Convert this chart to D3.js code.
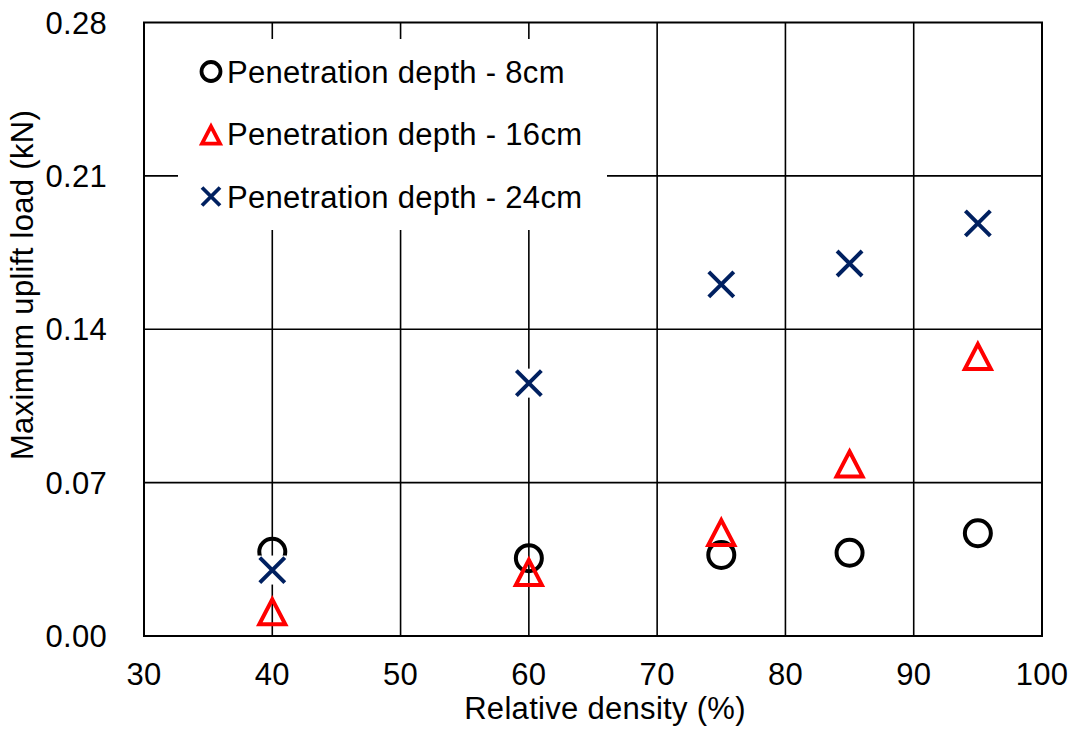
<!DOCTYPE html>
<html>
<head>
<meta charset="utf-8">
<script src="https://cdn.jsdelivr.net/npm/d3@7"></script>
<style>
    body { margin: 0; background: #fff; }
    svg { display: block; font-family: "Liberation Sans", Arial, sans-serif; }
    text { font-size: 31px; letter-spacing: 0.3px; fill: #000; }
</style>
</head>
<body>
<div id="chart"></div>
<script>
// relative density (%) and maximum uplift load (kN) per penetration depth
const density = [40, 60, 75, 85, 95];
const depth8 = [0.0384, 0.0355, 0.0370, 0.0380, 0.0469];
const depth16 = [0.0117, 0.0297, 0.0479, 0.0792, 0.1282];
const depth24 = [0.0301, 0.1154, 0.1605, 0.1700, 0.1883];

const xTicks = [30, 40, 50, 60, 70, 80, 90, 100];
const yTicks = [0, 0.07, 0.14, 0.21, 0.28];
const seriesNames = ["Penetration depth - 8cm", "Penetration depth - 16cm", "Penetration depth - 24cm"];

const W = 1073, H = 729;
const margin = { top: 22.5, right: 31, bottom: 93, left: 144 };
const width = W - margin.left - margin.right;
const height = H - margin.top - margin.bottom;

const svg = d3.select("#chart").append("svg")
    .attr("width", W)
    .attr("height", H);

const g = svg.append("g")
    .attr("transform", `translate(${margin.left},${margin.top})`);

const x = d3.scaleLinear().domain([30, 100]).range([0, width]);
const y = d3.scaleLinear().domain([0, 0.28]).range([height, 0]);

// gridlines
g.selectAll(".vgrid")
    .data(xTicks.slice(1, -1))
    .enter().append("line")
    .attr("x1", d => x(d)).attr("x2", d => x(d))
    .attr("y1", 0).attr("y2", height)
    .attr("stroke", "#000").attr("stroke-width", 1.6);

g.selectAll(".hgrid")
    .data(yTicks.slice(1, -1))
    .enter().append("line")
    .attr("x1", 0).attr("x2", width)
    .attr("y1", d => y(d)).attr("y2", d => y(d))
    .attr("stroke", "#000").attr("stroke-width", 1.6);

// legend background hides the grid behind it
g.append("rect")
    .attr("x", 34).attr("y", 16.5)
    .attr("width", 429).attr("height", 191)
    .attr("fill", "#fff");

// frame
g.append("rect")
    .attr("width", width).attr("height", height)
    .attr("fill", "none")
    .attr("stroke", "#000").attr("stroke-width", 2);

// tick labels
g.selectAll(".xlab")
    .data(xTicks)
    .enter().append("text")
    .attr("x", d => x(d))
    .attr("y", height + 48.5)
    .attr("text-anchor", "middle")
    .text(d => d);

g.selectAll(".ylab")
    .data(yTicks)
    .enter().append("text")
    .attr("x", -37)
    .attr("y", d => y(d) + 11)
    .attr("text-anchor", "end")
    .text(d => d3.format(".2f")(d));

// axis titles
svg.append("text")
    .attr("x", 605)
    .attr("y", 719)
    .attr("text-anchor", "middle")
    .text("Relative density (%)");

svg.append("text")
    .attr("transform", "translate(33,285) rotate(-90)")
    .attr("text-anchor", "middle")
    .text("Maximum uplift load (kN)");

// marker shapes
function triPath(s) {
    const hw = s * 0.5, hh = s * 0.48;
    return `M0,${-hh}L${hw},${hh}L${-hw},${hh}Z`;
}
function crossPath(s) {
    const h = s / 2;
    return `M${-h},${-h}L${h},${h}M${-h},${h}L${h},${-h}`;
}

const pts8 = density.map((d, i) => ({ x: d, y: depth8[i] }));
const pts16 = density.map((d, i) => ({ x: d, y: depth16[i] }));
const pts24 = density.map((d, i) => ({ x: d, y: depth24[i] }));

g.selectAll(".c8")
    .data(pts8)
    .enter().append("circle")
    .attr("cx", d => x(d.x)).attr("cy", d => y(d.y))
    .attr("r", 13)
    .attr("fill", "none")
    .attr("stroke", "#000").attr("stroke-width", 4);

g.selectAll(".t16")
    .data(pts16)
    .enter().append("path")
    .attr("transform", d => `translate(${x(d.x)},${y(d.y) + 1.5})`)
    .attr("d", triPath(26))
    .attr("fill", "none")
    .attr("stroke", "#ff0000").attr("stroke-width", 4);

const x24 = g.selectAll(".x24")
    .data(pts24)
    .enter().append("g")
    .attr("transform", d => `translate(${x(d.x)},${y(d.y)})`);
x24.append("rect")
    .attr("x", -14.5).attr("y", -14.5)
    .attr("width", 29).attr("height", 29)
    .attr("fill", "#fff");
x24.append("path")
    .attr("d", crossPath(25))
    .attr("fill", "none")
    .attr("stroke", "#002060").attr("stroke-width", 4);

// legend
const legend = g.selectAll(".legend")
    .data(seriesNames)
    .enter().append("g")
    .attr("transform", (d, i) => `translate(${211 - margin.left},${71.5 - margin.top + i * 62.5})`);

legend.append("text")
    .attr("x", 16)
    .attr("y", 11)
    .text(d => d);

legend.filter((d, i) => i === 0).append("circle")
    .attr("r", 9.5)
    .attr("fill", "none")
    .attr("stroke", "#000").attr("stroke-width", 3.8);
legend.filter((d, i) => i === 1).append("path")
    .attr("d", triPath(18))
    .attr("transform", "translate(0,1)")
    .attr("fill", "none")
    .attr("stroke", "#ff0000").attr("stroke-width", 3.8);
legend.filter((d, i) => i === 2).append("path")
    .attr("d", crossPath(18))
    .attr("fill", "none")
    .attr("stroke", "#002060").attr("stroke-width", 3.8);
</script>
</body>
</html>
